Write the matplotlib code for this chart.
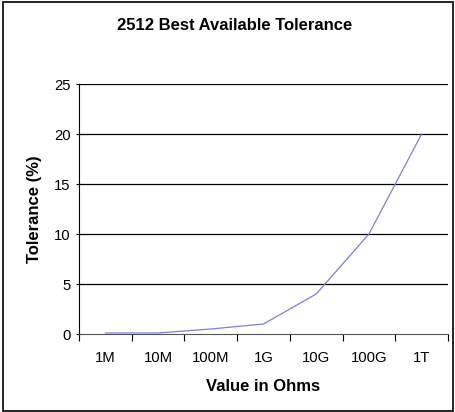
import matplotlib
matplotlib.use("Agg")
import matplotlib.pyplot as plt
from matplotlib.patches import Rectangle

categories = ["1M", "10M", "100M", "1G", "10G", "100G", "1T"]
tolerance = [0.1, 0.1, 0.5, 1, 4, 10, 20]
yticks = [0, 5, 10, 15, 20, 25]

plt.rcParams['font.family'] = ['Liberation Sans', 'DejaVu Sans']

fig = plt.figure(figsize=(4.56, 4.12), dpi=100)
ax = fig.add_axes([79/456, 1-334/412, (448-79)/456, (334-84)/412])

x = list(range(len(categories)))
ax.plot(x, tolerance, color="#7b7fdc", lw=0.9, zorder=3)

ax.set_xlim(-0.5, len(categories) - 0.5)
ax.set_ylim(0, 25)
ax.set_yticks(yticks)
ax.set_yticklabels([str(v) for v in yticks], fontsize=10.7)
ax.set_xticks(x)
ax.set_xticklabels(categories, fontsize=10.7)
ax.set_xticks([i - 0.5 for i in range(len(categories) + 1)], minor=True)
ax.tick_params(axis='x', which='major', length=0, pad=12)
ax.tick_params(axis='x', which='minor', length=5, direction='out', width=0.8)
ax.tick_params(axis='y', length=4, direction='inout', width=0.8, pad=4)

for v in yticks[1:]:
    ax.axhline(v, color="black", lw=0.9, zorder=1)

for s in ["top", "right"]:
    ax.spines[s].set_visible(False)
ax.spines["left"].set_linewidth(0.8)
ax.spines["bottom"].set_linewidth(0.8)
ax.spines["bottom"].set_color("#555555")

ax.set_xlabel("Value in Ohms", fontsize=12, fontweight="bold", labelpad=10)
ax.set_ylabel("Tolerance (%)", fontsize=12, fontweight="bold", labelpad=9)
fig.text(0.5 * (117 + 352) / 456, 1 - 25/412, "2512 Best Available Tolerance",
         ha="center", va="center", fontsize=12, fontweight="bold")

fig.patches.append(Rectangle((3/456, 1/412), 450/456, 409/412, transform=fig.transFigure,
                             fill=False, edgecolor="black", lw=1.2))

fig.savefig("out.png", dpi=100)
